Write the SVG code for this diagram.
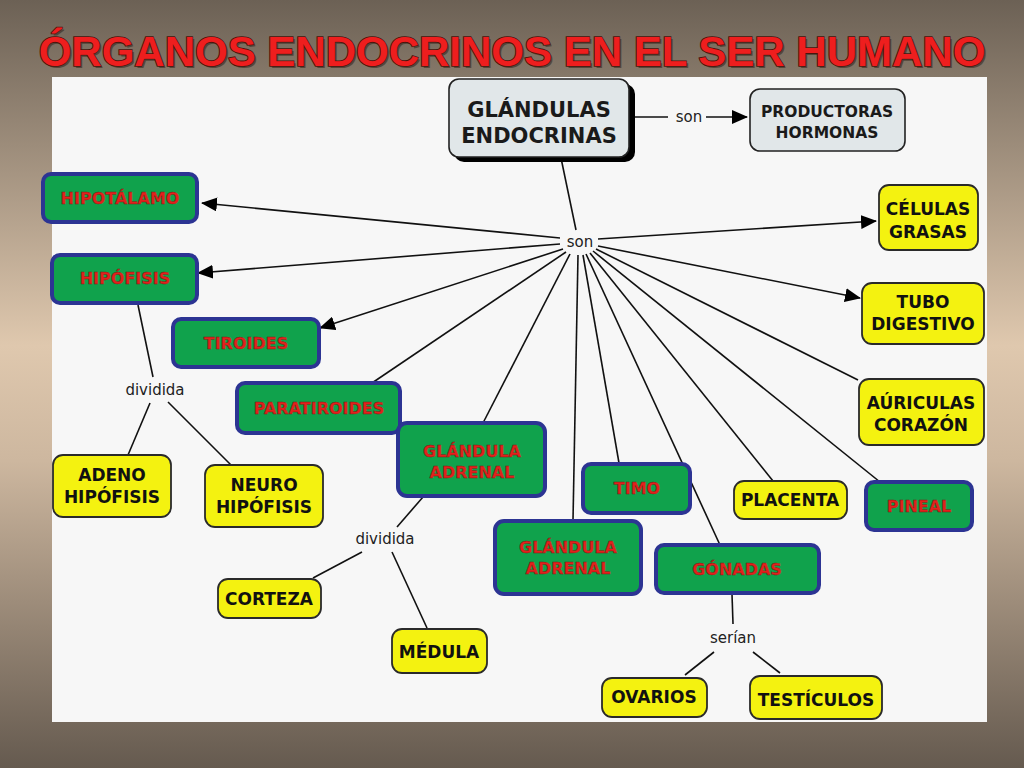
<svg xmlns="http://www.w3.org/2000/svg" width="1024" height="768" viewBox="0 0 1024 768">
<defs>
<linearGradient id="bg" x1="0" y1="0" x2="0" y2="1">
<stop offset="0" stop-color="#6c6155"/>
<stop offset="0.45" stop-color="#dfc8ae"/>
<stop offset="0.6" stop-color="#cdb79f"/>
<stop offset="1" stop-color="#655a4f"/>
</linearGradient>
<marker id="arr" markerUnits="userSpaceOnUse" markerWidth="16" markerHeight="14" refX="15" refY="7" orient="auto">
<path d="M0,0 L16,7 L0,14 Z" fill="#000"/>
</marker>
</defs>
<style>
.g rect{fill:#10a24c;stroke:#2c3493;stroke-width:4}
.y rect{fill:#f4f210;stroke:#2a2a2a;stroke-width:1.8}
.gr rect.b{fill:#e1e7e9;stroke:#222;stroke-width:1.6}
.g text{font-family:"DejaVu Sans",sans-serif;font-weight:bold;font-size:16px;fill:#e3211c;text-anchor:middle;stroke:#7a1a10;stroke-width:0.4}
.y text{font-family:"DejaVu Sans",sans-serif;font-weight:bold;font-size:17px;fill:#111;text-anchor:middle}
.gr text{font-family:"DejaVu Sans",sans-serif;font-weight:bold;fill:#1a1a1a;text-anchor:middle}
.lbl{font-family:"DejaVu Sans",sans-serif;font-size:15px;fill:#222;text-anchor:middle}
.c line{stroke:#111;stroke-width:1.6;fill:none}
.c line.a{marker-end:url(#arr)}
.title{font-family:"Liberation Sans",Arial,sans-serif;font-weight:bold;font-size:42px;text-anchor:middle}
</style>
<rect x="0" y="0" width="1024" height="768" fill="url(#bg)"/>
<rect x="52" y="77" width="935" height="645" fill="#f7f7f7"/>
<text class="title" x="514" y="68" fill="#3a2a20" opacity="0.6">ÓRGANOS ENDOCRINOS EN EL SER HUMANO</text>
<text class="title" x="512" y="66" fill="#ee1e1e" stroke="#4a140c" stroke-width="1.6" paint-order="stroke">ÓRGANOS ENDOCRINOS EN EL SER HUMANO</text>

<g id="connectors" class="c">
<line x1="629" y1="117" x2="668" y2="117"/>
<line class="a" x1="706" y1="117" x2="747" y2="117"/>
<line x1="561" y1="158" x2="576" y2="230"/>
<line class="a" x1="560" y1="238" x2="202" y2="203"/>
<line class="a" x1="560" y1="244" x2="198" y2="273"/>
<line class="a" x1="563" y1="249" x2="320" y2="328"/>
<line x1="566" y1="252" x2="372" y2="383"/>
<line x1="570" y1="254" x2="483" y2="423"/>
<line x1="578" y1="255" x2="573" y2="520"/>
<line x1="583" y1="255" x2="619" y2="463"/>
<line x1="586" y1="254" x2="720" y2="545"/>
<line x1="590" y1="253" x2="773" y2="481"/>
<line x1="593" y1="251" x2="880" y2="482"/>
<line x1="596" y1="249" x2="858" y2="380"/>
<line class="a" x1="598" y1="246" x2="860" y2="298"/>
<line class="a" x1="598" y1="239" x2="876" y2="221"/>
<line x1="138" y1="305" x2="153" y2="377"/>
<line x1="150" y1="403" x2="128" y2="455"/>
<line x1="168" y1="402" x2="231" y2="465"/>
<line x1="423" y1="497" x2="397" y2="527"/>
<line x1="362" y1="552" x2="313" y2="578"/>
<line x1="392" y1="552" x2="427" y2="628"/>
<line x1="732" y1="594" x2="733" y2="624"/>
<line x1="714" y1="652" x2="685" y2="675"/>
<line x1="753" y1="652" x2="780" y2="673"/>
</g>

<g id="labels">
<text class="lbl" x="689" y="122">son</text>
<text class="lbl" x="580" y="247">son</text>
<text class="lbl" x="155" y="395">dividida</text>
<text class="lbl" x="385" y="544">dividida</text>
<text class="lbl" x="733" y="643">serían</text>
</g>

<g id="glandulas" class="gr">
<rect x="454" y="84" width="181" height="78" rx="10" fill="#000"/>
<rect class="b" x="449" y="79" width="180" height="78" rx="10"/>
<text x="539" y="117" font-size="21">GLÁNDULAS</text>
<text x="539" y="143" font-size="21">ENDOCRINAS</text>
</g>
<g id="productoras" class="gr">
<rect class="b" x="750" y="89" width="155" height="62" rx="10"/>
<text x="827" y="117" font-size="15.5">PRODUCTORAS</text>
<text x="827" y="138" font-size="15.5">HORMONAS</text>
</g>

<g id="hipotalamo" class="g"><rect x="43" y="174" width="154" height="48" rx="8"/><text x="120" y="204">HIPOTÁLAMO</text></g>
<g id="hipofisis" class="g"><rect x="52" y="255" width="145" height="48" rx="8"/><text x="125" y="284">HIPÓFISIS</text></g>
<g id="tiroides" class="g"><rect x="173" y="319" width="146" height="48" rx="8"/><text x="246" y="349">TIROIDES</text></g>
<g id="paratiroides" class="g"><rect x="237" y="383" width="163" height="50" rx="8"/><text x="319" y="414">PARATIROIDES</text></g>
<g id="adrenal1" class="g"><rect x="398" y="423" width="147" height="73" rx="9"/><text x="472" y="457">GLÁNDULA</text><text x="472" y="478">ADRENAL</text></g>
<g id="timo" class="g"><rect x="583" y="464" width="107" height="49" rx="8"/><text x="637" y="494">TIMO</text></g>
<g id="adrenal2" class="g"><rect x="495" y="521" width="146" height="73" rx="9"/><text x="568" y="553">GLÁNDULA</text><text x="568" y="574">ADRENAL</text></g>
<g id="gonadas" class="g"><rect x="656" y="545" width="163" height="48" rx="8"/><text x="737" y="575">GÓNADAS</text></g>
<g id="pineal" class="g"><rect x="866" y="482" width="106" height="48" rx="8"/><text x="919" y="512">PINEAL</text></g>

<g id="celulas" class="y"><rect x="879" y="185" width="99" height="65" rx="10"/><text x="928" y="215">CÉLULAS</text><text x="928" y="238">GRASAS</text></g>
<g id="tubo" class="y"><rect x="862" y="283" width="122" height="61" rx="10"/><text x="923" y="308">TUBO</text><text x="923" y="330">DIGESTIVO</text></g>
<g id="auriculas" class="y"><rect x="859" y="379" width="125" height="66" rx="10"/><text x="921" y="409">AÚRICULAS</text><text x="921" y="431">CORAZÓN</text></g>
<g id="placenta" class="y"><rect x="734" y="481" width="113" height="38" rx="10"/><text x="790" y="506">PLACENTA</text></g>
<g id="adeno" class="y"><rect x="53" y="455" width="118" height="62" rx="10"/><text x="112" y="481">ADENO</text><text x="112" y="503">HIPÓFISIS</text></g>
<g id="neuro" class="y"><rect x="205" y="465" width="118" height="62" rx="10"/><text x="264" y="491">NEURO</text><text x="264" y="513">HIPÓFISIS</text></g>
<g id="corteza" class="y"><rect x="218" y="579" width="103" height="39" rx="10"/><text x="269" y="605">CORTEZA</text></g>
<g id="medula" class="y"><rect x="392" y="629" width="95" height="44" rx="10"/><text x="439" y="658">MÉDULA</text></g>
<g id="ovarios" class="y"><rect x="602" y="678" width="105" height="39" rx="10"/><text x="654" y="703">OVARIOS</text></g>
<g id="testiculos" class="y"><rect x="750" y="676" width="132" height="43" rx="10"/><text x="816" y="706">TESTÍCULOS</text></g>
</svg>
